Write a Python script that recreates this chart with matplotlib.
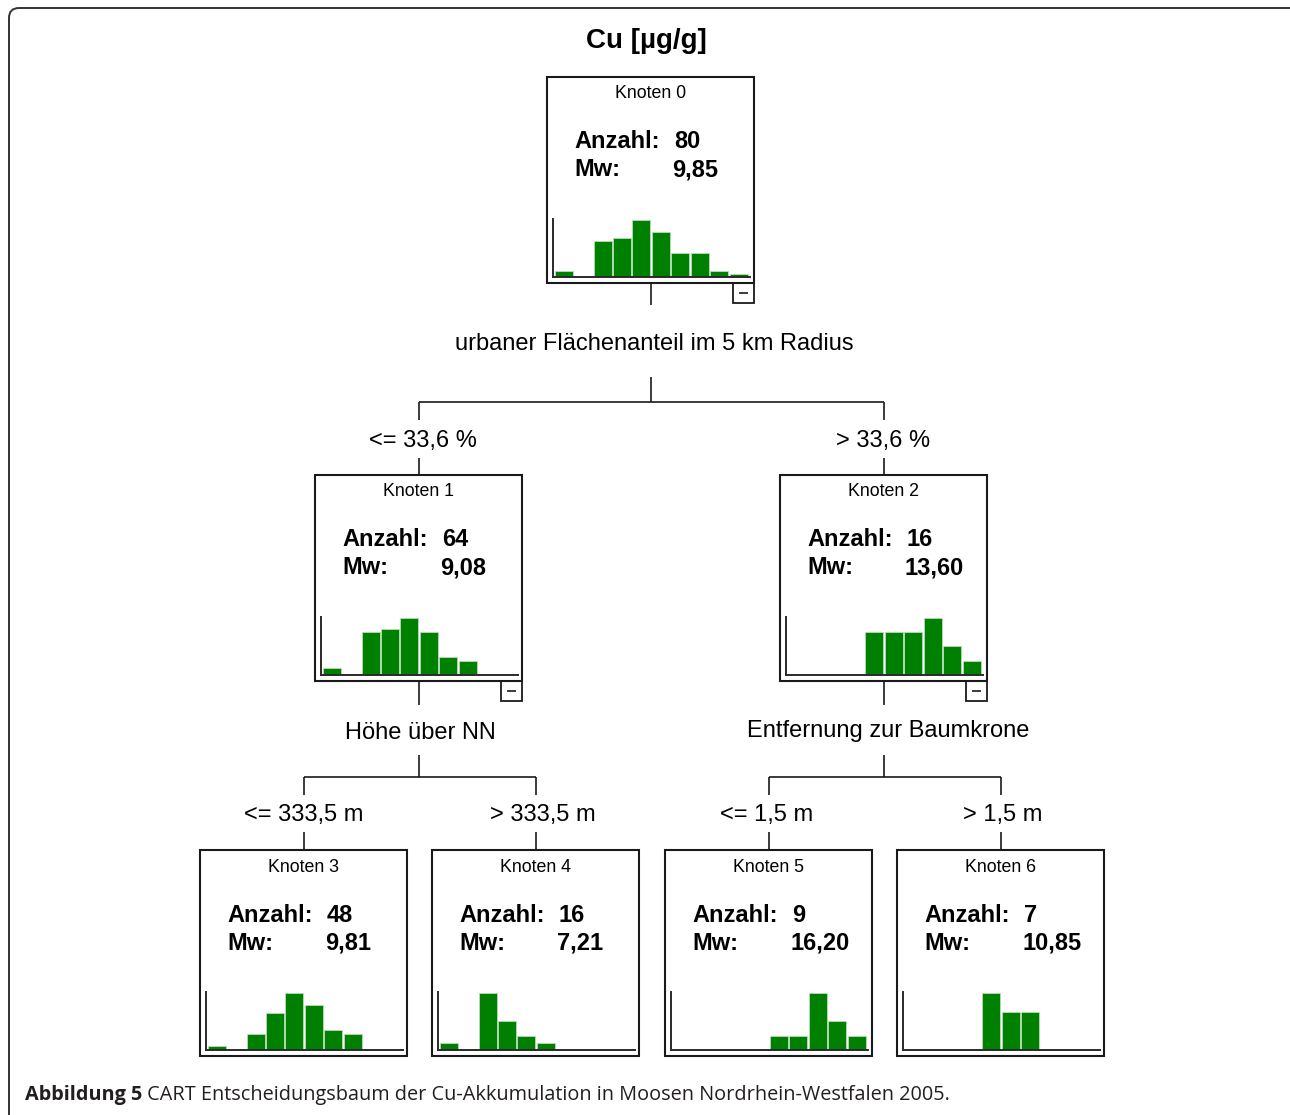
import matplotlib
matplotlib.use("Agg")
import matplotlib.pyplot as plt
from matplotlib.patches import Rectangle, FancyBboxPatch

# ---- data -------------------------------------------------------------
title = "Cu [µg/g]"
node_ids = [0, 1, 2, 3, 4, 5, 6]
node_counts = [80, 64, 16, 48, 16, 9, 7]
node_means = [9.85, 9.08, 13.60, 9.81, 7.21, 16.20, 10.85]

# histogram counts per node (10 equal-width classes of Cu concentration)
hist_node0 = [2, 0, 12, 13, 19, 15, 8, 8, 2, 1]
hist_node1 = [2, 0, 12, 13, 16, 12, 5, 4, 0, 0]
hist_node2 = [0, 0, 0, 0, 3, 3, 3, 4, 2, 1]
hist_node3 = [1, 0, 4, 9, 14, 11, 5, 4, 0, 0]
hist_node4 = [1, 0, 8, 4, 2, 1, 0, 0, 0, 0]
hist_node5 = [0, 0, 0, 0, 0, 1, 1, 4, 2, 1]
hist_node6 = [0, 0, 0, 0, 3, 2, 2, 0, 0, 0]
histograms = [hist_node0, hist_node1, hist_node2, hist_node3,
              hist_node4, hist_node5, hist_node6]

split_variables = {0: "urbaner Flächenanteil im 5 km Radius",
                   1: "Höhe über NN",
                   2: "Entfernung zur Baumkrone"}
split_children = {0: (1, 2), 1: (3, 4), 2: (5, 6)}
branch_labels = {1: "<= 33,6 %", 2: "> 33,6 %",
                 3: "<= 333,5 m", 4: "> 333,5 m",
                 5: "<= 1,5 m", 6: "> 1,5 m"}

caption_bold = "Abbildung 5"
caption_text = " CART Entscheidungsbaum der Cu-Akkumulation in Moosen Nordrhein-Westfalen 2005."

# ---- layout (pixel coordinates, origin top-left) ----------------------
W, H = 1290, 1115
BOX_W, BOX_H = 207, 206
box_left = {0: 547, 1: 315, 2: 780, 3: 200, 4: 432, 5: 665, 6: 897}
box_top = {0: 77, 1: 475, 2: 475, 3: 850, 4: 850, 5: 850, 6: 850}
# y positions of the connector elements below each split node
split_geom = {
    0: dict(stub=305, label=344, drop0=377, bar=402, tick=420, blabel=441, rise=458),
    1: dict(stub=705, label=733, drop0=755, bar=777, tick=795, blabel=815, rise=832),
    2: dict(stub=705, label=731, drop0=755, bar=777, tick=795, blabel=815, rise=832),
}
label_dx = {0: 4, 1: 2, 2: 5}
branch_dx = {1: 4, 2: 0, 3: 0, 4: 7, 5: -2, 6: 2}

LINE = "#1a1a1a"
GREEN = "#008000"
FONT = "Liberation Sans"

fig = plt.figure(figsize=(W / 100, H / 100), dpi=100)
ax = fig.add_axes([0, 0, 1, 1])
ax.set_xlim(0, W)
ax.set_ylim(H, 0)
ax.axis("off")

# outer rounded frame
ax.add_patch(FancyBboxPatch((9, 8), 1300, 1125,
                            boxstyle="round,pad=0,rounding_size=10",
                            fill=False, edgecolor="#333333", linewidth=1.4,
                            zorder=1))

ax.text(646, 41, title, ha="center", va="center", fontsize=20,
        fontweight="bold", family=FONT, color="black")


def cx(n):
    return box_left[n] + BOX_W / 2


def seg(x0, y0, x1, y1):
    ax.plot([x0, x1], [y0, y1], color=LINE, linewidth=1.2,
            solid_capstyle="butt", zorder=2)


# ---- nodes -------------------------------------------------------------
for n, cnt, mean, hist in zip(node_ids, node_counts, node_means, histograms):
    L, T = box_left[n], box_top[n]
    ax.add_patch(Rectangle((L, T), BOX_W, BOX_H, fill=False,
                           edgecolor=LINE, linewidth=1.5, zorder=3))
    ax.text(L + BOX_W / 2, T + 17, f"Knoten {n}", ha="center", va="center",
            fontsize=12.8, family=FONT, color="black")
    ax.text(L + 27, T + 65, "Anzahl:", ha="left", va="center",
            fontsize=17, fontweight="bold", family=FONT)
    ax.text(L + 127, T + 65, f"{cnt}", ha="left", va="center",
            fontsize=17, fontweight="bold", family=FONT)
    ax.text(L + 27, T + 93, "Mw:", ha="left", va="center",
            fontsize=17, fontweight="bold", family=FONT)
    ax.text(L + 125, T + 93, f"{mean:.2f}".replace(".", ","), ha="left",
            va="center", fontsize=17, fontweight="bold", family=FONT)

    # histogram panel inside the node box
    hx0, hx1 = L + 5.7, L + 203
    hy_top, hy_base = T + 142, T + 200
    hax = fig.add_axes([hx0 / W, 1 - hy_base / H,
                        (hx1 - hx0) / W, (hy_base - hy_top) / H])
    hax.bar(range(len(hist)), hist, width=0.93, align="edge",
            color=GREEN, edgecolor="#b8dcb8", linewidth=0.6)
    hax.set_xlim(-0.1, 10.05)
    hax.set_ylim(0, max(hist) * 1.015)
    hax.set_facecolor("none")
    for side in ("top", "right"):
        hax.spines[side].set_visible(False)
    for side in ("left", "bottom"):
        hax.spines[side].set_color("#2a2a2a")
        hax.spines[side].set_linewidth(1.4)
    hax.set_xticks([])
    hax.set_yticks([])

    # collapse marker under expanded nodes
    if n in split_children:
        R, B = L + BOX_W, T + BOX_H
        ax.add_patch(Rectangle((R - 21, B), 21, 20, fill=False,
                               edgecolor=LINE, linewidth=1.3, zorder=3))
        seg(R - 15, B + 10, R - 6, B + 10)

# ---- splits and branches ----------------------------------------------
for p, (c1, c2) in split_children.items():
    g = split_geom[p]
    px = cx(p)
    seg(px, box_top[p] + BOX_H, px, g["stub"])
    ax.text(px + label_dx[p], g["label"], split_variables[p], ha="center",
            va="center", fontsize=17, family=FONT)
    seg(px, g["drop0"], px, g["bar"])
    seg(cx(c1), g["bar"], cx(c2), g["bar"])
    for c in (c1, c2):
        seg(cx(c), g["bar"], cx(c), g["tick"])
        ax.text(cx(c) + branch_dx[c], g["blabel"], branch_labels[c],
                ha="center", va="center", fontsize=17, family=FONT)
        seg(cx(c), g["rise"], cx(c), box_top[c])

# ---- caption ----------------------------------------------------------
cap_font = "Open Sans"
t1 = ax.text(25, 1095, caption_bold, ha="left", va="center", fontsize=14.3,
             fontweight="bold", family=cap_font, color="#231f20")
fig.canvas.draw()
bb = t1.get_window_extent()
x_after = bb.x1  # display pixels == data pixels here
ax.text(x_after, 1095, caption_text, ha="left", va="center", fontsize=14.3,
        family=cap_font, color="#231f20")

fig.savefig("out.png", dpi=100)
